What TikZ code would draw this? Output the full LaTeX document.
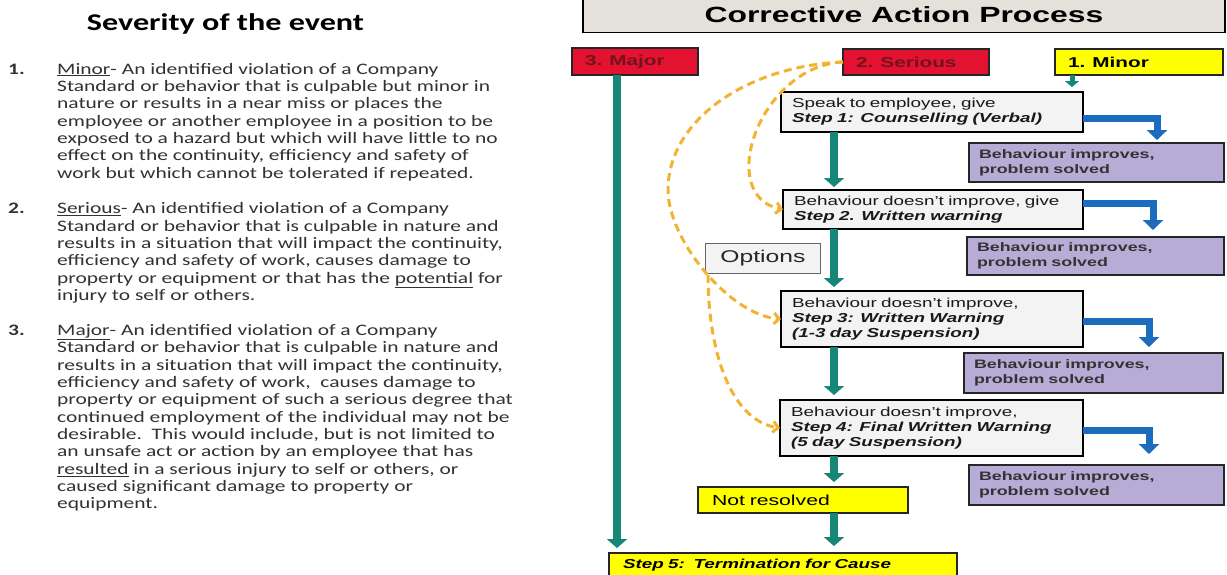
\documentclass[tikz,border=0pt]{standalone}
\usepackage{fontspec}
\setmainfont{Liberation Sans}
\newfontfamily\calf[FakeStretch=1.34]{Carlito}
\newfontfamily\arf[FakeStretch=1.45]{Liberation Sans}
\usetikzlibrary{arrows.meta}
\definecolor{hdrgray}{RGB}{228,225,219}
\definecolor{stepgray}{RGB}{243,243,243}
\definecolor{purplec}{RGB}{182,172,214}
\definecolor{redc}{RGB}{226,18,48}
\definecolor{redtxt}{RGB}{115,18,28}
\definecolor{yellowc}{RGB}{255,255,0}
\definecolor{tealc}{RGB}{22,134,118}
\definecolor{bluec}{RGB}{28,108,190}
\definecolor{orangec}{RGB}{242,180,48}
\definecolor{bodygray}{RGB}{50,50,50}
\begin{document}
\begin{tikzpicture}[x=1pt,y=-1pt,
  box/.style={anchor=north west, inner ysep=0pt, outer sep=0pt, align=left},
  lbl/.style={box, draw=black!85, line width=1.5pt, inner xsep=13pt,
    font=\arf\bfseries\fontsize{14.3}{16}\selectfont},
  stepbox/.style={box, draw=black, line width=1.7pt, fill=stepgray, inner xsep=11pt,
    text=black!90, font=\arf\fontsize{13}{15}\selectfont},
  purplebox/.style={box, draw=black!85, line width=1.7pt, fill=purplec, inner xsep=10pt,
    text=black!80, font=\arf\bfseries\fontsize{12.3}{15}\selectfont},
  yellowbox/.style={box, draw=black!85, line width=1.5pt, fill=yellowc, inner xsep=14pt},
  tealar/.style={draw=tealc, line width=8pt, -{Triangle[width=20pt,length=9pt]}},
  smallteal/.style={draw=tealc, line width=5pt, -{Triangle[width=14pt,length=6pt]}},
  bluear/.style={draw=bluec, line width=7pt, -{Triangle[width=20pt,length=10pt]}},
  optdash/.style={draw=orangec, line width=3pt, dash pattern=on 8pt off 5pt,
    -{Straight Barb[length=5pt,width=11pt]}},
  numlbl/.style={anchor=base west, inner sep=0pt, text=bodygray,
    font=\calf\bfseries\fontsize{16}{17.35}\selectfont},
  bodytxt/.style={anchor=base west, inner sep=0pt, text=bodygray,
    font=\calf\fontsize{16}{17.35}\selectfont}
]
\useasboundingbox (0,0) rectangle (1227,574);
\clip (0,0) rectangle (1227,574);
\fill[white] (0,0) rectangle (1227,574);

% ---------- left column ----------
\node[anchor=base, inner sep=0pt, font=\calf\bfseries\fontsize{24}{28}\selectfont] (ttl) at (225.5,30) {Severity of the event};

\node[numlbl] (n1) at (8,74) {1.};
\node[bodytxt] (t1) at (57,74) {\parbox[t]{480pt}{\raggedright
\underline{Minor}- An identified violation of a Company\\
Standard or behavior that is culpable but minor in\\
nature or results in a near miss or places the\\
employee or another employee in a position to be\\
exposed to a hazard but which will have little to no\\
effect on the continuity, efficiency and safety of\\
work but which cannot be tolerated if repeated.}};

\node[numlbl] (n2) at (8,213.7) {2.};
\node[bodytxt] (t2) at (57,213.7) {\parbox[t]{480pt}{\raggedright
\underline{Serious}- An identified violation of a Company\\
Standard or behavior that is culpable in nature and\\
results in a situation that will impact the continuity,\\
efficiency and safety of work, causes damage to\\
property or equipment or that has the \underline{potential} for\\
injury to self or others.}};

\node[numlbl] (n3) at (8,335.4) {3.};
\node[bodytxt] (t3) at (57,335.4) {\parbox[t]{480pt}{\raggedright
\underline{Major}- An identified violation of a Company\\
Standard or behavior that is culpable in nature and\\
results in a situation that will impact the continuity,\\
efficiency and safety of work,\ \ causes damage to\\
property or equipment of such a serious degree that\\
continued employment of the individual may not be\\
desirable.\ \ This would include, but is not limited to\\
an unsafe act or action by an employee that has\\
\underline{resulted} in a serious injury to self or others, or\\
caused significant damage to property or\\
equipment.}};

% ---------- right column ----------
\node[draw=black, line width=1.8pt, fill=hdrgray, minimum width=642pt, minimum height=36pt,
  inner sep=0pt, font=\arf\bfseries\fontsize{22}{24}\selectfont] (hdr) at (904,14.5) {Corrective Action Process};

\node[lbl, fill=redc, text=redtxt, text width=100pt, minimum height=27pt] (major) at (572,48) {3. Major};
\node[lbl, fill=redc, text=redtxt, text width=120pt, minimum height=26pt] (serious) at (843,49) {2. Serious};
\node[lbl, fill=yellowc, text=black, text width=142pt, minimum height=26pt] (minor) at (1055,49) {1. Minor};

\node[stepbox, text width=280pt, minimum height=40pt] (s1) at (781,92)
  {Speak to employee, give\\\textbf{\textit{Step 1: Counselling (Verbal)}}};
\node[stepbox, text width=278pt, minimum height=39pt] (s2) at (783,190)
  {Behaviour doesn’t improve, give\\\textbf{\textit{Step 2. Written warning}}};
\node[stepbox, text width=280pt, minimum height=56pt] (s3) at (781,291)
  {Behaviour doesn’t improve,\\\textbf{\textit{Step 3: Written Warning}}\\\textbf{\textit{(1-3 day Suspension)}}};
\node[stepbox, text width=281pt, minimum height=56pt] (s4) at (780,400)
  {Behaviour doesn’t improve,\\\textbf{\textit{Step 4: Final Written Warning}}\\\textbf{\textit{(5 day Suspension)}}};

\node[purplebox, text width=235pt, minimum height=39pt] (p1) at (969,143) {Behaviour improves,\\problem solved};
\node[purplebox, text width=237pt, minimum height=38pt] (p2) at (967,237) {Behaviour improves,\\problem solved};
\node[purplebox, text width=239pt, minimum height=40pt] (p3) at (964,353) {Behaviour improves,\\problem solved};
\node[purplebox, text width=235pt, minimum height=40pt] (p4) at (969,465) {Behaviour improves,\\problem solved};

\node[anchor=north west, draw=black!60, line width=0.9pt, fill=stepgray, minimum width=115pt,
  minimum height=30pt, inner sep=0pt, text=black!85, font=\arf\fontsize{17}{19}\selectfont] (opt) at (705,243) {Options};

\node[yellowbox, text width=182pt, minimum height=26pt, font=\arf\fontsize{14.6}{16}\selectfont] (nres) at (698,487) {Not resolved};
\node[yellowbox, text width=320pt, minimum height=25pt, font=\arf\bfseries\itshape\fontsize{13}{15}\selectfont] (s5) at (609,553) {Step 5:\ \ Termination for Cause};

% ---------- teal flow ----------
\coordinate (mx) at (617,0);
\coordinate (sx) at (834,0);
\coordinate (nx) at (1072,0);
\draw[tealar, shorten >=5pt] (major.south -| mx) -- (s5.north -| mx);
\draw[smallteal, shorten >=5pt] (minor.south -| nx) -- (s1.north -| nx);
\draw[tealar, shorten >=3pt] (s1.south -| sx) -- (s2.north -| sx);
\draw[tealar, shorten >=4pt] (s2.south -| sx) -- (s3.north -| sx);
\draw[tealar, shorten >=5pt] (s3.south -| sx) -- (s4.north -| sx);
\draw[tealar, shorten >=5pt] (s4.south -| sx) -- (nres.north -| sx);
\draw[tealar, shorten >=7pt] (nres.south -| sx) -- (s5.north -| sx);

% ---------- blue elbows ----------
\coordinate (bx1) at (1157,0);
\coordinate (bx2) at (1153,0);
\coordinate (bx3) at (1149,0);
\draw[bluear, shorten >=3pt] ([yshift=-6.5pt]s1.east) -| (p1.north -| bx1);
\draw[bluear, shorten >=7pt] ([yshift=6pt]s2.east) -| (p2.north -| bx2);
\draw[bluear, shorten >=6pt] ([yshift=-2.5pt]s3.east) -| (p3.north -| bx3);
\draw[bluear, shorten >=11pt] ([yshift=-2pt]s4.east) -| (p4.north -| bx3);

% ---------- options (dashed) ----------
\draw[optdash] (serious.west) .. controls (760,66) and (715,195) .. (s2.west);
\draw[optdash] (serious.west) .. controls (747,66) and (668,120) .. (668,190)
  .. controls (668,240) and (730,315) .. (s3.west) coordinate[pos=0.52] (br);
\draw[optdash] (br) .. controls (708,350) and (730,420) .. (s4.west);
\end{tikzpicture}
\end{document}
